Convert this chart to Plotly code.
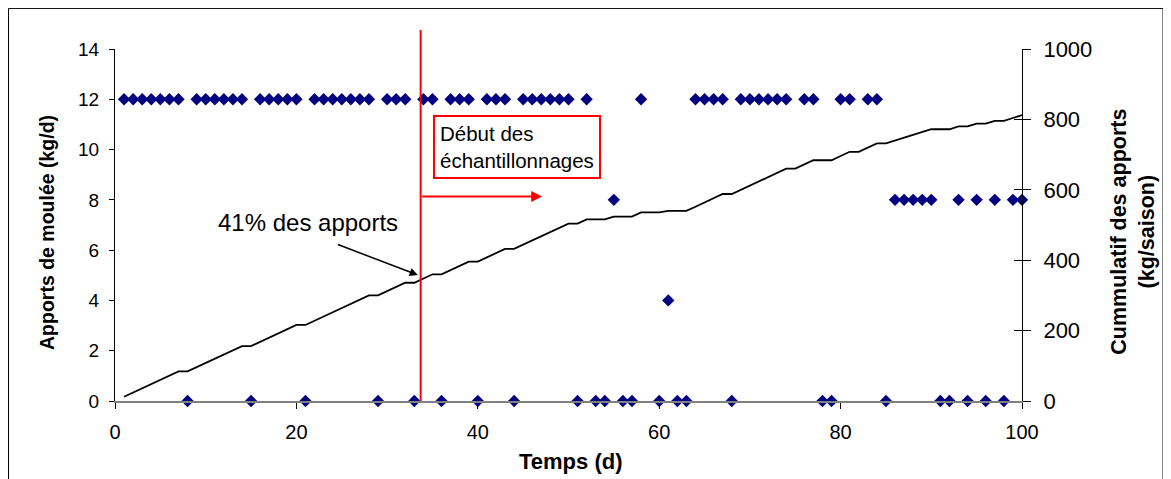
import numpy as np
import plotly.graph_objects as go

# ---- data ----
days = list(range(1, 101))
# daily feed inputs (kg/d); None = no record that day
apports = [12, 12, 12, 12, 12, 12, 12, 0, 12, 12,
           12, 12, 12, 12, 0, 12, 12, 12, 12, 12,
           0, 12, 12, 12, 12, 12, 12, 12, 0, 12,
           12, 12, 0, 12, 12, 0, 12, 12, 12, 0,
           12, 12, 12, 0, 12, 12, 12, 12, 12, 12,
           0, 12, 0, 0, 8, 0, 0, 12, None, 0,
           4, 0, 0, 12, 12, 12, 12, 0, 12, 12,
           12, 12, 12, 12, None, 12, 12, 0, 0, 12,
           12, None, 12, 12, 0, 8, 8, 8, 8, 8,
           0, 0, 8, 0, 8, 0, 8, 0, 8, 8]
# cumulative inputs over the season (kg/saison)
cumul = np.cumsum([v if v is not None else 0 for v in apports])

x_ticks = [0, 20, 40, 60, 80, 100]
left_ticks = [0, 2, 4, 6, 8, 10, 12, 14]
right_ticks = [0, 200, 400, 600, 800, 1000]
debut_jour = 33.7

FONT = "Liberation Sans, Arial, sans-serif"

fig = go.Figure()
fig.add_trace(go.Scatter(
    x=days, y=apports, mode="markers", yaxis="y",
    marker=dict(symbol="diamond", size=9.5, color="#000080", line=dict(width=0)),
    cliponaxis=False, showlegend=False))
fig.add_trace(go.Scatter(
    x=days, y=cumul, mode="lines", yaxis="y2",
    line=dict(color="black", width=1.8), showlegend=False))
fig.add_trace(go.Scatter(x=[None], y=[None], yaxis="y3", showlegend=False,
                         hoverinfo="skip"))

fig.update_layout(
    width=1163, height=471,
    margin=dict(l=107, r=149, t=41, b=78, pad=0),
    paper_bgcolor="white", plot_bgcolor="white",
    font=dict(family=FONT, color="black"),
    xaxis=dict(range=[0, 100], tickvals=x_ticks, ticks="outside", ticklen=6,
               tickcolor="black", showline=True, linecolor="#808080", linewidth=1.5,
               showgrid=False, zeroline=False, tickfont=dict(size=20),
               ticklabelstandoff=6),
    yaxis=dict(range=[0, 14], tickvals=left_ticks, ticks="outside", ticklen=5,
               tickcolor="black", showline=True, linecolor="black", linewidth=1,
               showgrid=False, zeroline=False, tickfont=dict(size=19),
               ticklabelstandoff=6),
    yaxis2=dict(range=[0, 1000], tickvals=right_ticks, overlaying="y", side="right",
                anchor="x", ticks="outside", ticklen=8, tickcolor="black",
                showline=True, linecolor="black", linewidth=1, showgrid=False,
                zeroline=False, tickfont=dict(size=22), ticklabelstandoff=8),
    yaxis3=dict(range=[0, 1000], tickvals=right_ticks, overlaying="y", side="right",
                anchor="x", ticks="inside", ticklen=8, tickcolor="black",
                showline=False, showgrid=False, zeroline=False, showticklabels=False),
)

# axis titles
fig.add_annotation(xref="paper", yref="paper", x=-0.075, y=0.48, textangle=-90,
                   text="<b>Apports de moulée (kg/d)</b>", showarrow=False,
                   font=dict(size=19.5), xanchor="center", yanchor="middle")
fig.add_annotation(xref="paper", yref="paper", x=1.1224, y=0.481, textangle=-90,
                   text="<b>Cummulatif des apports<br>(kg/saison)</b>", showarrow=False,
                   font=dict(size=21.5), xanchor="center", yanchor="middle")
fig.add_annotation(xref="paper", yref="paper", x=0.5017, y=-0.173,
                   text="<b>Temps (d)</b>", showarrow=False,
                   font=dict(size=22), xanchor="center", yanchor="middle")

# start of sampling: red vertical line, arrow and boxed text
fig.add_shape(type="line", xref="x", yref="paper", x0=debut_jour, x1=debut_jour,
              y0=0, y1=1.054, line=dict(color="#FF0000", width=2))
fig.add_annotation(xref="x", yref="y", axref="x", ayref="y",
                   x=47.1, y=8.13, ax=debut_jour, ay=8.13, text="",
                   showarrow=True, arrowhead=2, arrowsize=1.1, arrowwidth=2,
                   arrowcolor="#FF0000")
fig.add_annotation(xref="x", yref="y", x=44.37, y=10.12,
                   text="Début des<br>échantillonnages", showarrow=False,
                   align="left", font=dict(size=20.5), bordercolor="#FF0000",
                   borderwidth=2, borderpad=5, bgcolor="white",
                   xanchor="center", yanchor="middle")

# 41% annotation
fig.add_annotation(xref="x", yref="y", x=21.25, y=7.08, text="41% des apports",
                   showarrow=False, font=dict(size=24), xanchor="center",
                   yanchor="middle")
fig.add_annotation(xref="x", yref="y", axref="x", ayref="y",
                   x=33.39, y=5.01, ax=24.41, ay=6.245, text="",
                   showarrow=True, arrowhead=2, arrowsize=1.1, arrowwidth=1.5,
                   arrowcolor="black")

# outer chart border
fig.add_shape(type="rect", xref="paper", yref="paper",
              x0=-0.1174, x1=1.1555, y0=-0.3, y1=1.1153,
              line=dict(color="black", width=1), layer="below")

fig.write_html("out.html")
